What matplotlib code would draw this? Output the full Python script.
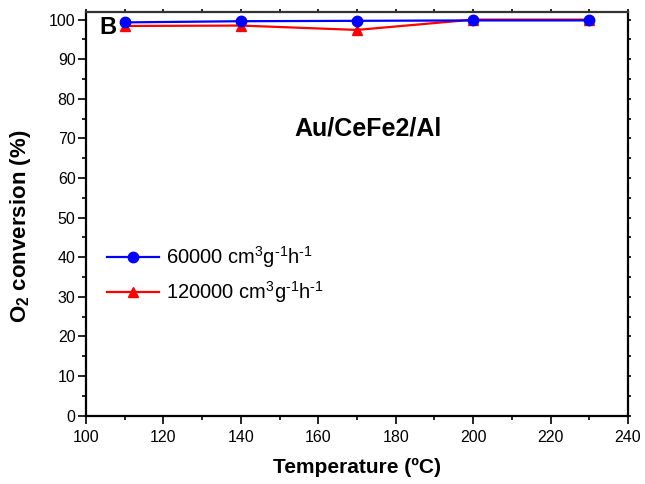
import matplotlib
matplotlib.use("Agg")
import matplotlib.pyplot as plt
from matplotlib.ticker import MultipleLocator

plt.rcParams['font.family'] = ['Liberation Sans', 'DejaVu Sans']
plt.rcParams['mathtext.fontset'] = 'custom'
plt.rcParams['mathtext.rm'] = 'Liberation Sans'
plt.rcParams['mathtext.it'] = 'Liberation Sans:italic'
plt.rcParams['mathtext.bf'] = 'Liberation Sans:bold'

temperature = [110, 140, 170, 200, 230]
conv_60000 = [99.3, 99.6, 99.7, 99.8, 99.8]
conv_120000 = [98.4, 98.5, 97.4, 100.0, 100.0]
label_60000 = "60000 cm$^3$g$^{\u20101}$h$^{\u20101}$"
label_120000 = "120000 cm$^3$g$^{\u20101}$h$^{\u20101}$"

fig = plt.figure(figsize=(6.45, 4.84), dpi=100)
ax = fig.add_axes([0.1333, 0.1415, 0.8404, 0.8343])

ax.plot(temperature, conv_60000, color='#0000ff', marker='o', markersize=7.5,
        linewidth=1.6, label=label_60000, zorder=3)
ax.plot(temperature, conv_120000, color='#ff0000', marker='^', markersize=7.5,
        linewidth=1.6, label=label_120000, zorder=2)

ax.set_xlim(100, 240)
ax.set_ylim(0, 102)
ax.xaxis.set_major_locator(MultipleLocator(20))
ax.xaxis.set_minor_locator(MultipleLocator(10))
ax.yaxis.set_major_locator(MultipleLocator(10))
ax.yaxis.set_minor_locator(MultipleLocator(5))

ax.tick_params(which='both', direction='out', labelsize=11.5, width=1.2)
ax.tick_params(which='major', length=5.5)
ax.tick_params(which='minor', length=3)
ax.tick_params(axis='x', pad=5)
ax.tick_params(axis='y', pad=2)
ax.tick_params(which='both', top=True, right=True, labeltop=False,
               labelright=False)
# tiny marks on the mirrored top/right axes
for t in ax.xaxis.get_major_ticks() + ax.xaxis.get_minor_ticks():
    t.tick2line.set_markersize(2)
for t in ax.yaxis.get_major_ticks() + ax.yaxis.get_minor_ticks():
    t.tick2line.set_markersize(2)

for name, s in ax.spines.items():
    s.set_linewidth(1.6)
ax.spines['top'].set_color('#333333')

ax.set_xlabel("Temperature (ºC)", fontsize=15, fontweight='bold', labelpad=9)
ax.set_ylabel("O$_\\mathbf{2}$ conversion (%)", fontsize=16,
              fontweight='bold')
ax.yaxis.set_label_coords(-0.098, 0.469)

ax.text(0.024, 0.944, "B", transform=ax.transAxes, fontsize=17,
        fontweight='bold', va='baseline', ha='left')
ax.text(0.52, 0.712, "Au/CeFe2/Al", transform=ax.transAxes, fontsize=18,
        fontweight='bold', va='center', ha='center')

ax.legend(loc='center left', bbox_to_anchor=(0.039, 0.348), frameon=False,
          fontsize=14.5, handlelength=2.6, handletextpad=0.3,
          borderaxespad=0, borderpad=0, labelspacing=0.45)

fig.savefig("out.png", dpi=100)
